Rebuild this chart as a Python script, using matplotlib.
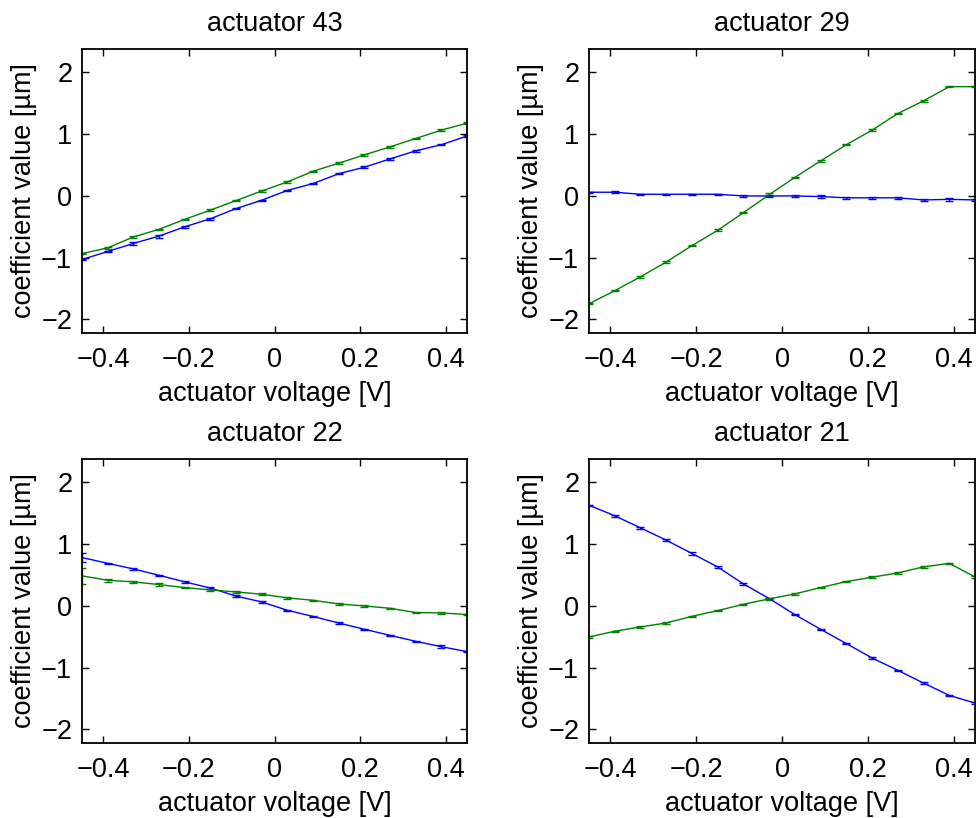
import numpy as np
import matplotlib
matplotlib.use("Agg")
import matplotlib.pyplot as plt

plt.rcParams['font.family'] = ['Liberation Sans', 'DejaVu Sans']

voltage = np.round(np.arange(-0.45, 0.4501, 0.06), 3)

titles = ["actuator 43", "actuator 29", "actuator 22", "actuator 21"]

# actuator 43
a43_blue = [-1.03, -0.90, -0.77, -0.65, -0.50, -0.37, -0.205, -0.07, 0.09, 0.20, 0.36, 0.465, 0.60, 0.73, 0.83, 0.97]
a43_green = [-0.935, -0.84, -0.665, -0.54, -0.38, -0.23, -0.075, 0.08, 0.227, 0.40, 0.53, 0.665, 0.795, 0.93, 1.065, 1.18]
a43_blue_err = [0.01, 0.012, 0.025, 0.025, 0.012, 0.012, 0.012, 0.012, 0.012, 0.012, 0.012, 0.012, 0.012, 0.012, 0.012, 0.012]
a43_green_err = [0.01, 0.012, 0.012, 0.012, 0.012, 0.012, 0.012, 0.02, 0.012, 0.012, 0.012, 0.012, 0.012, 0.012, 0.012, 0.012]

# actuator 29
a29_blue = [0.06, 0.06, 0.027, 0.027, 0.027, 0.027, 0.0, 0.0, 0.0, -0.01, -0.03, -0.03, -0.03, -0.065, -0.055, -0.065]
a29_green = [-1.746, -1.535, -1.31, -1.07, -0.805, -0.557, -0.27, 0.02, 0.30, 0.567, 0.83, 1.065, 1.335, 1.54, 1.77, 1.77]
a29_blue_err = [0.01, 0.012, 0.012, 0.012, 0.012, 0.012, 0.012, 0.012, 0.012, 0.02, 0.012, 0.012, 0.012, 0.012, 0.02, 0.012]
a29_green_err = [0.01, 0.012, 0.012, 0.012, 0.012, 0.015, 0.012, 0.02, 0.012, 0.012, 0.012, 0.012, 0.012, 0.012, 0.012, 0.012]

# actuator 22
a22_blue = [0.784, 0.69, 0.60, 0.497, 0.39, 0.29, 0.16, 0.065, -0.07, -0.17, -0.276, -0.378, -0.476, -0.573, -0.66, -0.74]
a22_green = [0.487, 0.416, 0.39, 0.346, 0.297, 0.26, 0.227, 0.19, 0.13, 0.092, 0.032, 0.0, -0.038, -0.108, -0.113, -0.14]
a22_blue_err = [0.08, 0.012, 0.012, 0.012, 0.012, 0.012, 0.012, 0.012, 0.012, 0.012, 0.012, 0.012, 0.012, 0.012, 0.02, 0.012]
a22_green_err = [0.13, 0.025, 0.012, 0.02, 0.012, 0.012, 0.012, 0.012, 0.012, 0.012, 0.012, 0.012, 0.012, 0.012, 0.02, 0.012]

# actuator 21
a21_blue = [1.632, 1.46, 1.265, 1.065, 0.85, 0.632, 0.357, 0.12, -0.14, -0.378, -0.61, -0.843, -1.043, -1.249, -1.449, -1.573]
a21_green = [-0.503, -0.41, -0.34, -0.276, -0.168, -0.076, 0.027, 0.114, 0.195, 0.297, 0.395, 0.465, 0.535, 0.632, 0.69, 0.47]
a21_blue_err = [0.01, 0.012, 0.012, 0.012, 0.025, 0.012, 0.012, 0.012, 0.012, 0.012, 0.012, 0.012, 0.012, 0.012, 0.012, 0.012]
a21_green_err = [0.01, 0.012, 0.012, 0.012, 0.012, 0.012, 0.012, 0.015, 0.012, 0.012, 0.012, 0.012, 0.012, 0.012, 0.012, 0.012]

blue_series = [a43_blue, a29_blue, a22_blue, a21_blue]
green_series = [a43_green, a29_green, a22_green, a21_green]
blue_errs = [a43_blue_err, a29_blue_err, a22_blue_err, a21_blue_err]
green_errs = [a43_green_err, a29_green_err, a22_green_err, a21_green_err]

xticks = [-0.4, -0.2, 0, 0.2, 0.4]
xticklabels = ["\u22120.4", "\u22120.2", "0", "0.2", "0.4"]
yticks = [-2, -1, 0, 1, 2]
yticklabels = ["\u22122", "\u22121", "0", "1", "2"]

FS = 19.5
fig = plt.figure(figsize=(9.76, 8.18), dpi=100)
W, H = 976, 818
positions = [
    (82, 49, 467, 333),
    (589, 49, 975, 333),
    (82, 459, 467, 743),
    (589, 459, 975, 743),
]
for k, (l, t, r, b) in enumerate(positions):
    ax = fig.add_axes([l / W, 1 - b / H, (r - l) / W, (b - t) / H])
    for ys, es, col in ((blue_series[k], blue_errs[k], (0, 0, 1)),
                        (green_series[k], green_errs[k], (0, 0.5, 0))):
        ax.errorbar(voltage, ys, yerr=es, color=col, lw=1.0, elinewidth=1.0,
                    capsize=3.0, capthick=1.0, clip_on=True)
    ax.set_xlim(-0.45, 0.45)
    ax.set_ylim(-2.22, 2.38)
    ax.set_xticks(xticks)
    ax.set_xticklabels(xticklabels)
    ax.set_yticks(yticks)
    ax.set_yticklabels(yticklabels)
    ax.tick_params(direction='in', length=5, width=1.0, top=True, right=True,
                   labelsize=FS, colors='black')
    ax.tick_params(axis='x', pad=10)
    ax.tick_params(axis='y', pad=7)
    for s in ax.spines.values():
        s.set_linewidth(1.3)
    ax.set_title(titles[k], fontsize=FS, pad=13)
    ax.set_xlabel("actuator voltage [V]", fontsize=FS, labelpad=6)
    ax.set_ylabel("coefficient value [\u00b5m]", fontsize=FS, labelpad=3)

fig.savefig("out.png", dpi=100)
